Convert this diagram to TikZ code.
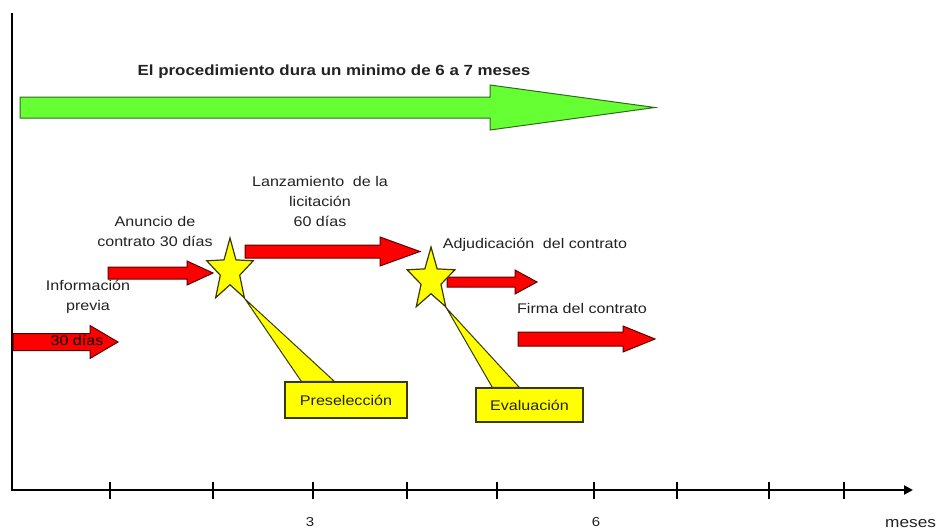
\documentclass[tikz,border=0pt]{standalone}
\usepackage{fontspec}
\setmainfont{Liberation Sans}
\newfontfamily\lblfont[FakeStretch=1.15]{Liberation Sans}
\usetikzlibrary{shapes.geometric,arrows.meta}
\definecolor{rfill}{HTML}{FF0000}
\definecolor{rline}{HTML}{5A0000}
\definecolor{gfill}{HTML}{66FF33}
\definecolor{gline}{HTML}{2F6B1A}
\definecolor{yfill}{HTML}{FFFF00}
\definecolor{yline}{HTML}{3A3A00}
\definecolor{txt}{HTML}{222222}
% style, x0, xhead, xtip, ycenter, shaft half height, head half height
\newcommand{\blockarrow}[7]{\draw[#1] (#2,{#5-#6}) -- (#3,{#5-#6}) -- (#3,{#5-#7}) -- (#4,#5) -- (#3,{#5+#7}) -- (#3,{#5+#6}) -- (#2,{#5+#6}) -- cycle;}
\tikzset{
  redarrow/.style={fill=rfill,draw=rline,line width=1pt,line join=miter},
  greenarrow/.style={fill=gfill,draw=gline,line width=1pt,line join=miter},
  lbl/.style={font=\lblfont\fontsize{14}{20}\selectfont,text=txt,align=center,inner sep=0pt},
  titlelbl/.style={font=\lblfont\bfseries\fontsize{14.7}{18}\selectfont,text=txt,inner sep=0pt},
  starshape/.style={star,star points=5,star point ratio=2.4,minimum size=66pt,inner sep=0pt,
    fill=yfill,draw=yline,line width=1.2pt,transform shape},
  callout/.style={fill=yfill,draw=yline,line width=1pt,line join=miter},
  callbox/.style={rectangle,fill=yfill,draw=yline,line width=1.5pt,inner sep=0pt,
    font=\lblfont\fontsize{14}{16}\selectfont,text=txt},
  axisline/.style={line width=2.8pt,black},
  tickline/.style={line width=2pt,black},
  axlbl/.style={font=\lblfont\fontsize{13}{15}\selectfont,text=txt,inner sep=0pt}
}
\begin{document}
\begin{tikzpicture}[x=1pt,y=-1pt]
\useasboundingbox (0,0) rectangle (946,531);
\fill[white] (0,0) rectangle (946,531);

% axes
\coordinate (ytop) at (12,13);
\coordinate (origin) at (12,490);
\coordinate (xend) at (913,490);
\draw[axisline] (ytop) -- (origin);
\draw[axisline,-{Triangle[length=9pt,width=9pt]}] ([xshift=-1.4pt]origin) -- (xend);
\foreach \tx [count=\i] in {110,213,313,407,497,594,677,769,844}{
  \coordinate (tk\i) at (\tx,482);
  \coordinate (tb\i) at (\tx,499);
  \draw[tickline] (tk\i) -- (tb\i);
}
\node[axlbl] (l3) at (310,522) {3};
\node[axlbl] (l6) at (596,522) {6};
\node[axlbl,font=\lblfont\fontsize{15}{17}\selectfont,anchor=west] (lmeses) at (885,524) {meses};

% green arrow and title
\node[titlelbl] (title) at (334,72) {El procedimiento dura un minimo de 6 a 7 meses};
\blockarrow{greenarrow}{20}{490}{655}{107.5}{10.5}{22.5}

% red arrows
\blockarrow{redarrow}{13}{90}{118}{342}{8.5}{16.5}
\blockarrow{redarrow}{108}{187}{213}{273}{6}{12}
\blockarrow{redarrow}{245}{380}{420}{251.5}{6.5}{14.5}
\blockarrow{redarrow}{447}{515}{537}{282}{5}{12}
\blockarrow{redarrow}{518}{623}{655}{339}{7}{13}

% labels
\node[lbl] (info) at (88,297) {Información\\previa};
\node[lbl,text=black] (dias30) at (77,340) {30 días};
\node[lbl] (anuncio) at (155,231) {Anuncio de\\contrato 30 días};
\node[lbl] (lanz) at (320,201) {Lanzamiento\hspace{0.3em} de la\\licitación\\60 días};
\node[lbl] (adju) at (535,245) {Adjudicación\hspace{0.3em} del contrato};
\node[lbl] (firma) at (582,308) {Firma del contrato};

% stars
\begin{scope}[shift={(230,271)},xscale=0.74]
  \node[starshape] (s1) at (0,0) {};
\end{scope}
\begin{scope}[shift={(431,280)},xscale=0.76]
  \node[starshape] (s2) at (0,0) {};
\end{scope}

% callouts
\node[callbox,minimum width=122pt,minimum height=36pt] (pre) at (346,400) {};
\node[callbox,minimum width=107pt,minimum height=34pt] (eva) at (529.5,405) {};
\draw[callout] (s1.outer point 4) -- ([xshift=17pt]pre.north west) -- ([xshift=50pt]pre.north west) -- cycle;
\draw[callout] (s2.outer point 4) -- ([xshift=17pt]eva.north west) -- ([xshift=44pt]eva.north west) -- cycle;
\node[callbox,minimum width=122pt,minimum height=36pt] (preb) at (346,400) {Preselección};
\node[callbox,minimum width=107pt,minimum height=34pt] (evab) at (529.5,405) {Evaluación};
\end{tikzpicture}
\end{document}
